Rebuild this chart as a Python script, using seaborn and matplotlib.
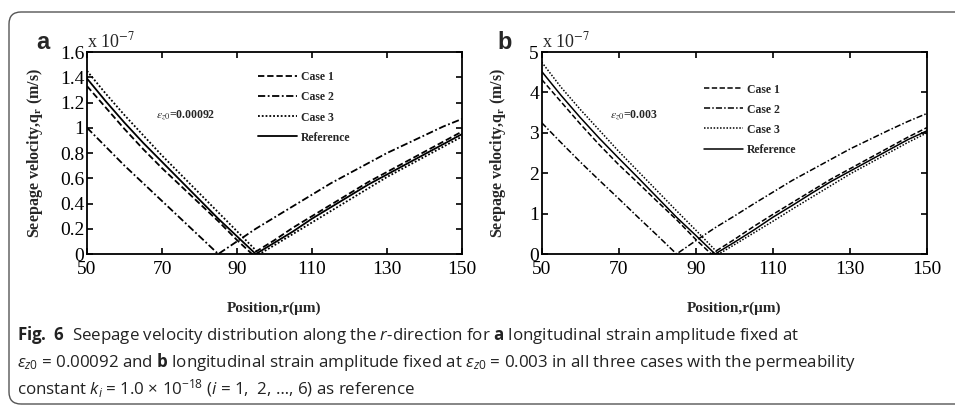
import matplotlib
matplotlib.use("Agg")
import matplotlib.pyplot as plt
from matplotlib import font_manager as fm
from matplotlib.patches import FancyBboxPatch
from matplotlib.ticker import FuncFormatter
import pandas as pd
import seaborn as sns

# ---- data -------------------------------------------------------------
CASES = ["Case 1", "Case 2", "Case 3", "Reference"]

R_CASE1 = [50, 55, 60, 65, 70, 75, 80, 85, 90, 94, 100, 105, 110, 115, 120, 125, 130, 135, 140, 145, 150]
R_CASE2 = [50, 55, 60, 65, 70, 75, 80, 85, 90, 95, 100, 105, 110, 115, 120, 125, 130, 135, 140, 145, 150]
R_CASE3 = [50, 55, 60, 65, 70, 75, 80, 85, 90, 96, 100, 105, 110, 115, 120, 125, 130, 135, 140, 145, 150]
R_REF = [50, 55, 60, 65, 70, 75, 80, 85, 90, 95, 100, 105, 110, 115, 120, 125, 130, 135, 140, 145, 150]

# panel a, eps_z0 = 0.00092 (x 1e-7 m/s)
QA_CASE1 = [1.33, 1.16, 0.99, 0.83, 0.68, 0.54, 0.40, 0.26, 0.11, 0.0, 0.11, 0.21, 0.30, 0.39, 0.48, 0.57, 0.65, 0.73, 0.81, 0.89, 0.97]
QA_CASE2 = [1.00, 0.85, 0.70, 0.56, 0.42, 0.28, 0.14, 0.0, 0.10, 0.20, 0.29, 0.38, 0.47, 0.56, 0.64, 0.72, 0.80, 0.87, 0.94, 1.01, 1.07]
QA_CASE3 = [1.45, 1.27, 1.10, 0.94, 0.78, 0.63, 0.48, 0.33, 0.18, 0.0, 0.07, 0.16, 0.25, 0.34, 0.43, 0.52, 0.61, 0.69, 0.77, 0.85, 0.93]
QA_REF = [1.39, 1.21, 1.04, 0.88, 0.73, 0.58, 0.43, 0.28, 0.14, 0.0, 0.09, 0.18, 0.28, 0.37, 0.46, 0.55, 0.63, 0.71, 0.79, 0.87, 0.95]

# panel b, eps_z0 = 0.003 (x 1e-7 m/s)
QB_CASE1 = [4.32, 3.77, 3.22, 2.70, 2.21, 1.76, 1.30, 0.85, 0.36, 0.0, 0.36, 0.68, 0.98, 1.27, 1.56, 1.85, 2.11, 2.37, 2.63, 2.89, 3.13]
QB_CASE2 = [3.25, 2.76, 2.28, 1.82, 1.37, 0.91, 0.46, 0.0, 0.33, 0.65, 0.94, 1.24, 1.53, 1.82, 2.08, 2.34, 2.60, 2.83, 3.06, 3.28, 3.48]
QB_CASE3 = [4.75, 4.13, 3.58, 3.06, 2.54, 2.05, 1.56, 1.07, 0.59, 0.0, 0.23, 0.52, 0.81, 1.11, 1.40, 1.69, 1.98, 2.24, 2.50, 2.76, 3.00]
QB_REF = [4.52, 3.93, 3.38, 2.86, 2.37, 1.89, 1.40, 0.91, 0.46, 0.0, 0.29, 0.59, 0.91, 1.20, 1.50, 1.79, 2.05, 2.31, 2.57, 2.83, 3.05]

X_TICKS = [50, 70, 90, 110, 130, 150]
YA_TICKS = [0, 0.2, 0.4, 0.6, 0.8, 1.0, 1.2, 1.4, 1.6]
YB_TICKS = [0, 1, 2, 3, 4, 5]


def frame(r_lists, q_lists):
    parts = []
    for case, r, q in zip(CASES, r_lists, q_lists):
        parts.append(pd.DataFrame({"r": r, "q": q, "case": case}))
    return pd.concat(parts, ignore_index=True)


df_a = frame([R_CASE1, R_CASE2, R_CASE3, R_REF], [QA_CASE1, QA_CASE2, QA_CASE3, QA_REF])
df_b = frame([R_CASE1, R_CASE2, R_CASE3, R_REF], [QB_CASE1, QB_CASE2, QB_CASE3, QB_REF])

# ---- style ---------------------------------------------------------------
sns.set_theme(style="ticks")
installed = {f.name for f in fm.fontManager.ttflist}
SERIF = "Liberation Serif" if "Liberation Serif" in installed else "DejaVu Serif"
CAP_FONT = "Liberation Sans Narrow" if "Liberation Sans Narrow" in installed else "Open Sans"
plt.rcParams["font.family"] = [SERIF, "DejaVu Serif"]
plt.rcParams["mathtext.fontset"] = "custom"
plt.rcParams["mathtext.rm"] = CAP_FONT
plt.rcParams["mathtext.it"] = CAP_FONT + ":italic"
plt.rcParams["mathtext.bf"] = CAP_FONT + ":bold"
plt.rcParams["axes.linewidth"] = 1.3

DASHES = {"Case 1": (3.5, 1.6), "Case 2": (4, 1.4, 1, 1.4), "Case 3": (1, 1.1), "Reference": ""}

fig = plt.figure(figsize=(9.55, 4.07), dpi=100)

# rounded frame around the whole figure
fig.patches.append(FancyBboxPatch((9, 3), 970, 392, boxstyle="round,pad=0,rounding_size=12",
                                  transform=None, facecolor="none", edgecolor="#555555", lw=1.0))

ax_a = fig.add_axes([0.0911, 0.3759, 0.3927, 0.4963])
ax_b = fig.add_axes([0.5672, 0.3759, 0.4035, 0.4963])

panels = [
    (ax_a, df_a, YA_TICKS, 1.6, "a", r"=0.00092", 1.3, -0.112, (0.44, 0.933), 0.184, -0.135),
    (ax_b, df_b, YB_TICKS, 5, "b", r"=0.003", 1.1, -0.087, (0.405, 0.873), 0.177, -0.115),
]

for ax, df, yticks, ymax, tag, eps_txt, lw, ylab_x, leg_anchor, eps_x, tag_x in panels:
    sns.lineplot(data=df, x="r", y="q", style="case", style_order=CASES, dashes=DASHES,
                 color="black", lw=lw, estimator=None, legend=False, ax=ax)
    ax.set_xlim(50, 150)
    ax.set_ylim(0, ymax)
    ax.set_xticks(X_TICKS)
    ax.set_yticks(yticks)
    ax.yaxis.set_major_formatter(FuncFormatter(lambda v, p: f"{v:g}"))
    ax.tick_params(direction="in", top=True, right=True, length=4, width=1.2,
                   labelsize=14, pad=2, colors="black")
    ax.tick_params(axis="x", pad=5)
    for s in ax.spines.values():
        s.set_color("black")

    ax.set_xlabel("Position,r(μm)", fontsize=11, fontweight="bold")
    ax.xaxis.set_label_coords(0.5, -0.235)
    ax.set_ylabel(r"Seepage velocity,q$_\mathbf{r}$ (m/s)", fontsize=11.5, fontweight="bold",
                  math_fontfamily="stix")
    ax.yaxis.set_label_coords(ylab_x, 0.5)

    ax.text(0.0, 1.005, r"x 10$^{-7}$", transform=ax.transAxes, fontsize=13,
            ha="left", va="bottom", math_fontfamily="stix")
    ax.text(tag_x, 0.99, tag, transform=ax.transAxes,
            fontsize=17, fontweight="bold", family="Liberation Sans", ha="left", va="bottom")

    ax.text(eps_x, 0.688, r"$\varepsilon_{z0}$" + eps_txt, transform=ax.transAxes,
            fontsize=8.5, fontweight="bold", math_fontfamily="stix", va="center")

    handles = ax.get_lines()[:4]
    ax.legend(handles, CASES, loc="upper left", bbox_to_anchor=leg_anchor, frameon=False,
              borderpad=0, handlelength=3.3, handletextpad=0.35, labelspacing=0.68,
              prop={"family": SERIF, "weight": "bold", "size": 8.5})

# ---- caption ---------------------------------------------------------------
cap_kw = dict(fontsize=12.2, family=CAP_FONT, color="#222222", ha="left", va="center",
              math_fontfamily="custom")
fig.text(17 / 955, 1 - 335 / 407,
         r"$\mathbf{Fig.\ 6}$  Seepage velocity distribution along the $\mathit{r}$-direction for "
         r"$\mathbf{a}$ longitudinal strain amplitude fixed at", **cap_kw)
fig.text(17 / 955, 1 - 362 / 407,
         r"$\varepsilon_{z0}$ = 0.00092 and $\mathbf{b}$ longitudinal strain amplitude fixed at "
         r"$\varepsilon_{z0}$ = 0.003 in all three cases with the permeability", **cap_kw)
fig.text(17 / 955, 1 - 389 / 407,
         r"constant $k_i$ = 1.0 $\times$ 10$^{-18}$ ($i$ = 1,  2, $\ldots$, 6) as reference", **cap_kw)

fig.savefig("out.png", dpi=100)
